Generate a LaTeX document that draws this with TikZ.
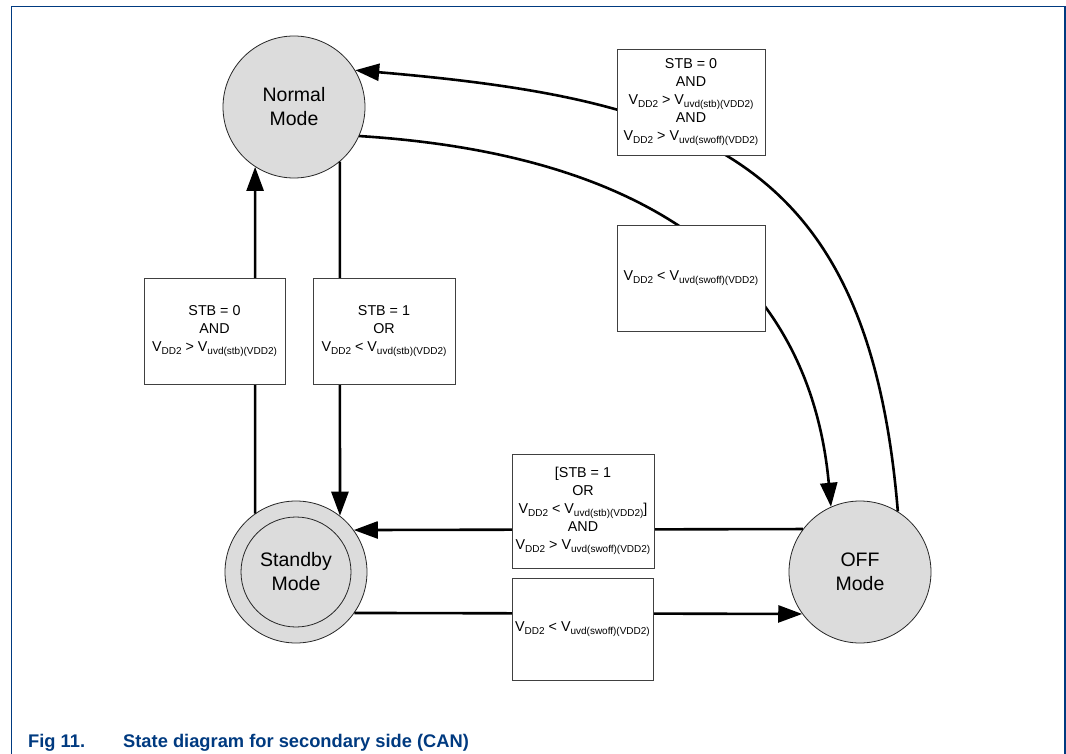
\documentclass[tikz,border=0pt]{standalone}
\usepackage{fontspec}
\setmainfont{Liberation Sans}
\usetikzlibrary{arrows.meta}
\definecolor{nxpblue}{RGB}{0,58,128}
\definecolor{statefill}{RGB}{220,220,220}
% lowered, smaller index text for signal names
\newcommand\lo[1]{\raisebox{-2.5pt}{\fontsize{10}{10}\selectfont #1}}

\begin{document}
\begin{tikzpicture}[x=1pt,y=-1pt,
  state/.style={circle, draw=black!85, line width=0.8pt, fill=statefill,
    minimum size=142pt, inner sep=0pt, align=center,
    font=\fontsize{19.5}{24}\selectfont},
  cond/.style={rectangle, draw=black!75, line width=0.8pt, fill=white,
    align=center, inner sep=0pt, font=\fontsize{14.3}{18}\selectfont},
  trans/.style={line width=2.6pt, -{Triangle[length=24pt,width=17pt]}}]
\useasboundingbox (0,0) rectangle (1066,754);

% page frame
\draw[nxpblue, line width=1.3pt] (11.5,754) -- (11.5,6.3) -- (1065,6.3) -- (1065,754);

% states
\node[state] (normal)  at (294,107) {Normal\\Mode};
\node[state] (standby) at (296,572) {Standby\\Mode};
\node[state] (off)     at (860,572) {OFF\\Mode};
\draw[black!85, line width=0.8pt] (standby.center) circle[radius=55];

% transitions
\draw[trans] (standby.125.3) -- (normal.-123.3);
\draw[trans] (normal.-50.7) -- (standby.52.7);
\draw[trans] (off.143.6) -- (standby.36.4);
\draw[trans] (standby.-35.3) -- (off.-144.7);
\draw[trans] (normal.-24.4) .. controls (660,155) and (810,280) .. (off.114.8);
\draw[trans] (off.58.8) .. controls (869,161) and (704,100) .. (normal.31.2);

% transition conditions
\node[cond, minimum width=148pt, minimum height=106pt] (b1) at (691,102)
  {STB = 0\\AND\\V\lo{DD2} > V\lo{uvd(stb)(VDD2)}\\AND\\V\lo{DD2} > V\lo{uvd(swoff)(VDD2)}};
\node[cond, minimum width=148pt, minimum height=106pt] (b2) at (691,278)
  {V\lo{DD2} < V\lo{uvd(swoff)(VDD2)}};
\node[cond, minimum width=141pt, minimum height=106pt] (b3) at (214.5,331)
  {STB = 0\\AND\\V\lo{DD2} > V\lo{uvd(stb)(VDD2)}};
\node[cond, minimum width=142pt, minimum height=106pt] (b4) at (384,331)
  {STB = 1\\OR\\V\lo{DD2} < V\lo{uvd(stb)(VDD2)}};
\node[cond, minimum width=142pt, minimum height=114pt] (b5) at (583,511)
  {[STB = 1\\OR\\V\lo{DD2} < V\lo{uvd(stb)(VDD2)}]\\AND\\V\lo{DD2} > V\lo{uvd(swoff)(VDD2)}};
\node[cond, minimum width=141pt, minimum height=102pt] (b6) at (582.5,629)
  {V\lo{DD2} < V\lo{uvd(swoff)(VDD2)}};

% caption
\node[anchor=base west, inner sep=0pt, text=nxpblue,
  font=\bfseries\fontsize{18.3}{22}\selectfont] (caption) at (28,747)
  {\makebox[95pt][l]{Fig 11.}State diagram for secondary side (CAN)};
\end{tikzpicture}
\end{document}
